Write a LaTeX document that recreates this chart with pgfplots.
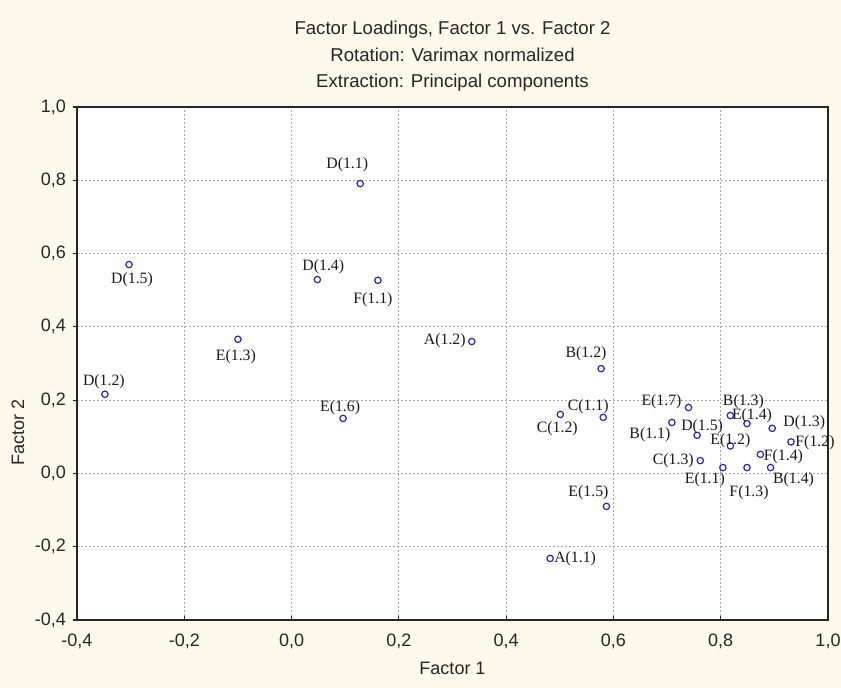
\documentclass[border=0pt]{standalone}
\usepackage{pgfplots}
\pgfplotsset{compat=1.18}
\usepackage{fontspec}
\setmainfont{Liberation Serif}
\newfontfamily\sansf{Liberation Sans}
\definecolor{cream}{RGB}{252,248,236}
\definecolor{navy}{RGB}{40,40,160}
\begin{document}
\begin{tikzpicture}
\fill[cream] (-38.5pt,-34pt) rectangle (382pt,310pt);
\begin{axis}[
  at={(0,0)}, anchor=south west,
  scale only axis, width=375.5pt, height=256.5pt,
  xmin=-0.4, xmax=1.0, ymin=-0.4, ymax=1.0,
  xtick={-0.4,-0.2,0,0.2,0.4,0.6,0.8,1.0},
  ytick={-0.4,-0.2,0,0.2,0.4,0.6,0.8,1.0},
  axis background/.style={fill=white},
  axis line style={black!85, line width=0.7pt},
  grid=major,
  major grid style={gray!70, dash pattern=on 1pt off 1pt, line width=0.4pt},
  tick align=outside,
  major tick length=2pt,
  xtick pos=bottom, ytick pos=left,
  xtick style={black!85, line width=0.6pt, yshift=2pt},
  ytick style={black!85, line width=0.6pt},
  /pgf/number format/assume math mode=true,
  /pgf/number format/.cd, use comma, fixed, fixed zerofill, precision=1, /pgfplots/.cd,
  ticklabel style={font=\sansf\fontsize{9}{10}\selectfont, text=black!85},
  xticklabel style={yshift=-1.5pt},
  title={Factor Loadings, Factor 1 vs. Factor 2\\Rotation: Varimax normalized\\Extraction: Principal components},
  title style={at={(axis description cs:0.5,1.0755)}, anchor=center, align=center, text=black!85, font=\sansf\fontsize{9.3}{13.2}\selectfont},
  xlabel={Factor 1},
  xlabel style={at={(axis description cs:0.5,-0.0936)}, anchor=center, text=black!85, font=\sansf\fontsize{9}{10}\selectfont},
  ylabel={Factor 2},
  ylabel style={at={(axis description cs:-0.0786,0.366)}, anchor=center, text=black!85, font=\sansf\fontsize{9}{10}\selectfont},
  clip=false,
]
\addplot[only marks, mark=o, mark size=1.6pt, navy, mark options={line width=0.6pt},
  point meta=explicit symbolic,
  visualization depends on={value \thisrow{dx}\as\dx},
  visualization depends on={value \thisrow{dy}\as\dy},
  nodes near coords,
  nodes near coords style={font=\fontsize{7.9}{9}\selectfont, text=black!90, anchor=center,
    xshift=\dx*0.5pt, yshift=\dy*0.5pt, inner sep=0pt},
] table[x=x, y=y, meta=lbl] {
x      y      lbl     dx   dy
0.128  0.791  D(1.1)  -13  19
-0.303 0.570  D(1.5)  3    -15
0.048  0.529  D(1.4)  6    13
0.161  0.527  F(1.1)  -5   -19
-0.100 0.366  E(1.3)  -2   -17
0.336  0.360  A(1.2)  -27  1
-0.348 0.216  D(1.2)  -1   13
0.096  0.150  E(1.6)  -3   11
0.577  0.286  B(1.2)  -15  15
0.581  0.153  C(1.1)  -15  11
0.501  0.161  C(1.2)  -3   -14
0.587  -0.090 E(1.5)  -18  14
0.482  -0.232 A(1.1)  25   0
0.740  0.180  E(1.7)  -27  6
0.818  0.158  B(1.3)  13   14
0.709  0.139  B(1.1)  -22  -12
0.849  0.136  E(1.4)  5    8
0.896  0.123  D(1.3)  32   6
0.756  0.104  D(1.5)  5    9
0.931  0.086  F(1.2)  24   -1
0.818  0.075  E(1.2)  0    5
0.874  0.052  F(1.4)  23   -2
0.762  0.035  C(1.3)  -27  0
0.804  0.016  E(1.1)  -18  -12
0.849  0.016  F(1.3)  2    -25
0.893  0.016  B(1.4)  23   -12
};
\end{axis}
\pgfresetboundingbox
\useasboundingbox (-38.5pt,-34pt) rectangle (382pt,310pt);
\end{tikzpicture}
\end{document}
